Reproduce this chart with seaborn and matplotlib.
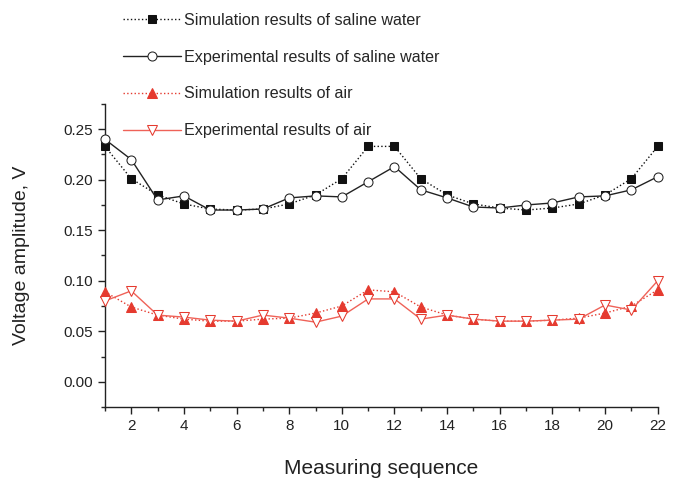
import numpy as np
import pandas as pd
import matplotlib
matplotlib.use("Agg")
import matplotlib.pyplot as plt
from matplotlib.ticker import MultipleLocator
import seaborn as sns

# -------------------------------------------------------------------
# data
# -------------------------------------------------------------------
sequence = list(range(1, 23))

sim_saline = [0.233, 0.201, 0.185, 0.176, 0.171, 0.170, 0.171, 0.176, 0.185, 0.201, 0.233,
              0.233, 0.201, 0.185, 0.176, 0.172, 0.170, 0.172, 0.176, 0.185, 0.201, 0.233]
exp_saline = [0.240, 0.220, 0.180, 0.184, 0.170, 0.170, 0.171, 0.182, 0.184, 0.183, 0.198,
              0.213, 0.190, 0.182, 0.173, 0.172, 0.175, 0.177, 0.183, 0.184, 0.190, 0.203]
sim_air = [0.089, 0.074, 0.066, 0.062, 0.060, 0.060, 0.062, 0.063, 0.068, 0.075, 0.091,
           0.089, 0.074, 0.066, 0.062, 0.060, 0.060, 0.061, 0.063, 0.068, 0.075, 0.091]
exp_air = [0.080, 0.090, 0.066, 0.064, 0.061, 0.060, 0.066, 0.063, 0.059, 0.065, 0.082,
           0.082, 0.062, 0.066, 0.062, 0.060, 0.060, 0.061, 0.062, 0.076, 0.071, 0.100]

labels = ["Simulation results of saline water",
          "Experimental results of saline water",
          "Simulation results of air",
          "Experimental results of air"]

sns.set_style("ticks")
plt.rcParams['font.family'] = ['Liberation Sans', 'DejaVu Sans']

fig = plt.figure(figsize=(6.77, 4.78), dpi=100)
ax = fig.add_axes([0.155, 0.1485, 0.8165, 0.634])

red = '#e53a2f'

sns.lineplot(x=sequence, y=sim_saline, ax=ax, color='#111111', linestyle=':', linewidth=1,
             marker='s', markersize=5.5, markerfacecolor='#111111', markeredgecolor='#111111',
             label=labels[0], clip_on=False, zorder=3)
sns.lineplot(x=sequence, y=exp_saline, ax=ax, color='#222222', linestyle='-', linewidth=1,
             marker='o', markersize=6.5, markerfacecolor='white', markeredgecolor='#222222',
             label=labels[1], clip_on=False, zorder=3)
sns.lineplot(x=sequence, y=sim_air, ax=ax, color=red, linestyle=':', linewidth=1,
             marker='^', markersize=7, markerfacecolor=red, markeredgecolor=red,
             label=labels[2], clip_on=False, zorder=3)
sns.lineplot(x=sequence, y=exp_air, ax=ax, color='#ef6258', linestyle='-', linewidth=1,
             marker='v', markersize=7.5, markerfacecolor='white', markeredgecolor=red,
             label=labels[3], clip_on=False, zorder=3)

ax.set_xlim(1, 22)
ax.set_ylim(-0.025, 0.275)
ax.xaxis.set_major_locator(MultipleLocator(2))
ax.xaxis.set_minor_locator(MultipleLocator(1))
ax.yaxis.set_major_locator(MultipleLocator(0.05))
ax.yaxis.set_minor_locator(MultipleLocator(0.025))
ax.yaxis.set_major_formatter(matplotlib.ticker.FormatStrFormatter('%.2f'))
ax.tick_params(which='major', length=5, width=1, labelsize=11, colors='#222222')
ax.tick_params(which='minor', length=3, width=1)
ax.set_yticks([0.0, 0.05, 0.10, 0.15, 0.20, 0.25])
sns.despine(ax=ax)
for s in ['left', 'bottom']:
    ax.spines[s].set_color('#222222')
    ax.spines[s].set_linewidth(1)

ax.set_xlabel('Measuring sequence', fontsize=15, labelpad=19, color='#222222')
ax.set_ylabel('Voltage amplitude, V', fontsize=14, labelpad=24, color='#222222')

handles, lbls = ax.get_legend_handles_labels()
ax.legend(handles, lbls, loc='upper left', bbox_to_anchor=(123 / 677, 1 - 13 / 478),
          bbox_transform=fig.transFigure, frameon=False, fontsize=11.6,
          handlelength=3.6, handletextpad=0.2, labelspacing=1.35, borderpad=0,
          borderaxespad=0)

fig.savefig('out.png', dpi=100)
